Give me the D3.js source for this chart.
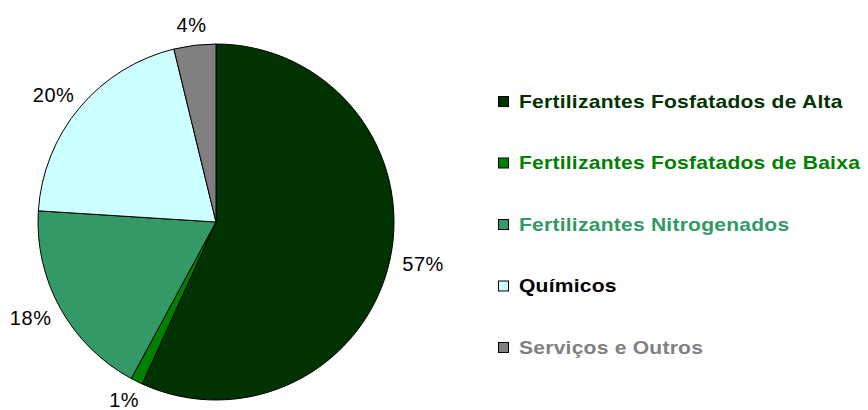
<!DOCTYPE html>
<html>
<head>
<meta charset="utf-8">
<script src="https://cdn.jsdelivr.net/npm/d3@7"></script>
<style>
  html, body { margin: 0; padding: 0; background: #fff; }
  svg { display: block; }
</style>
</head>
<body>
<svg id="chart" width="868" height="410"></svg>
<script>
const categories = [
  "Fertilizantes Fosfatados de Alta",
  "Fertilizantes Fosfatados de Baixa",
  "Fertilizantes Nitrogenados",
  "Químicos",
  "Serviços e Outros"
];
const values = [56.8, 1.1, 18.1, 20.2, 3.8];
const valueLabels = ["57%", "1%", "18%", "20%", "4%"];
const sliceColors = ["#003300", "#008000", "#339966", "#CCFFFF", "#808080"];
const legendTextColors = ["#003300", "#008000", "#339966", "#000000", "#808080"];

const svg = d3.select("#chart");
const cx = 216, cy = 222, R = 178;

const data = categories.map((c, i) => ({ name: c, value: values[i], label: valueLabels[i], color: sliceColors[i], textColor: legendTextColors[i] }));

const pie = d3.pie().sort(null).value(d => d.value).startAngle(0).endAngle(2 * Math.PI);
const arc = d3.arc().innerRadius(0).outerRadius(R);
const arcs = pie(data);

const g = svg.append("g").attr("transform", `translate(${cx},${cy})`);
g.selectAll("path.slice")
  .data(arcs)
  .enter().append("path")
  .attr("class", "slice")
  .attr("d", arc)
  .attr("fill", d => d.data.color)
  .attr("stroke", "#000")
  .attr("stroke-width", 1)
  .attr("stroke-linejoin", "round");

// Labels outside slices
const fontSize = 20;
const labelR = R + 13;
g.selectAll("text.lbl")
  .data(arcs)
  .enter().append("text")
  .attr("class", "lbl")
  .attr("font-family", "Liberation Sans, Arial, sans-serif")
  .attr("font-size", fontSize)
  .attr("letter-spacing", 0.6)
  .attr("fill", "#000")
  .attr("text-anchor", "middle")
  .attr("dominant-baseline", "central")
  .text(d => d.data.label)
  .each(function(d) {
    const a = (d.startAngle + d.endAngle) / 2;
    const s = Math.sin(a), c = Math.cos(a);
    const w = this.getComputedTextLength();
    const h = fontSize * 0.75;
    const x = labelR * s + s * w / 2;
    const y = -labelR * c - c * h / 2;
    d3.select(this).attr("x", x).attr("y", y);
  });

// Legend
const legend = svg.append("g").attr("transform", "translate(498,101)");
const rowH = 61.5;
const rows = legend.selectAll("g.row")
  .data(data)
  .enter().append("g")
  .attr("class", "row")
  .attr("transform", (d, i) => `translate(0,${i * rowH})`);
rows.append("rect")
  .attr("x", 0.5).attr("y", -4.5)
  .attr("width", 10).attr("height", 10)
  .attr("fill", d => d.color)
  .attr("stroke", "#000")
  .attr("stroke-width", 1);
rows.append("text")
  .attr("transform", "translate(21,0) scale(1.17,1)")
  .attr("x", 0)
  .attr("y", 0.5)
  .attr("dominant-baseline", "central")
  .attr("font-family", "Liberation Sans, Arial, sans-serif")
  .attr("font-weight", "bold")
  .attr("font-size", 18)
  .attr("letter-spacing", 0.2)
  .attr("fill", d => d.textColor)
  .text(d => d.name);
</script>
</body>
</html>
